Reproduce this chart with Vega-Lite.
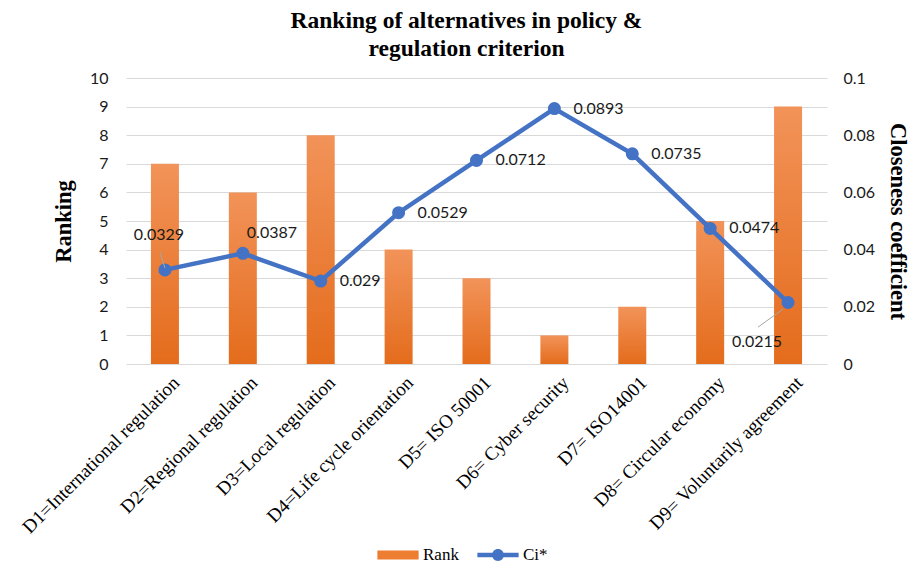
{
  "$schema": "https://vega.github.io/schema/vega-lite/v6.json",
  "autosize": "none",
  "width": 701,
  "height": 286,
  "padding": {"left": 126, "top": 78, "right": 87, "bottom": 202},
  "background": "white",
  "title": {
    "text": ["Ranking of alternatives in policy &", "regulation criterion"],
    "font": "Liberation Serif",
    "fontSize": 23.5,
    "fontWeight": "bold",
    "lineHeight": 28,
    "color": "#000000",
    "anchor": "middle",
    "dx": -10,
    "offset": 10
  },
  "config": {
    "view": {"stroke": null},
    "axis": {"domain": false, "ticks": false, "labelOverlap": false, "labelFont": "Lato", "labelFontSize": 16, "labelColor": "#1a1a1a", "titleFont": "Liberation Serif", "titleFontSize": 22.5, "titleFontWeight": "bold", "titleColor": "#000000"}
  },
  "data": {
    "values": [
      {"alt": "D1=International regulation", "rank": 7, "ci": 0.0329, "label": "0.0329"},
      {"alt": "D2=Regional regulation", "rank": 6, "ci": 0.0387, "label": "0.0387"},
      {"alt": "D3=Local regulation", "rank": 8, "ci": 0.029, "label": "0.029"},
      {"alt": "D4=Life cycle orientation", "rank": 4, "ci": 0.0529, "label": "0.0529"},
      {"alt": "D5= ISO 50001", "rank": 3, "ci": 0.0712, "label": "0.0712"},
      {"alt": "D6=  Cyber security", "rank": 1, "ci": 0.0893, "label": "0.0893"},
      {"alt": "D7= ISO14001", "rank": 2, "ci": 0.0735, "label": "0.0735"},
      {"alt": "D8= Circular economy", "rank": 5, "ci": 0.0474, "label": "0.0474"},
      {"alt": "D9= Voluntarily agreement", "rank": 9, "ci": 0.0215, "label": "0.0215"}
    ]
  },
  "encoding": {
    "x": {
      "field": "alt", "type": "nominal", "sort": null, "title": null,
      "scale": {"paddingInner": 0.64, "paddingOuter": 0.32},
      "axis": {"labelAngle": -45, "labelFont": "Liberation Serif", "labelFontSize": 19, "labelColor": "#000000", "labelPadding": 9, "labelOffset": 5, "labelLimit": 300, "grid": false}
    }
  },
  "layer": [
    {
      "mark": {"type": "bar", "size": 28, "fill": {"gradient": "linear", "x1": 0, "y1": 0, "x2": 0, "y2": 1, "stops": [{"offset": 0, "color": "#F29359"}, {"offset": 1, "color": "#E46C1C"}]}},
      "encoding": {
        "y": {"field": "rank", "type": "quantitative", "title": "Ranking", "scale": {"domain": [0, 10]},
          "axis": {"orient": "left", "values": [0,1,2,3,4,5,6,7,8,9,10], "grid": true, "gridColor": "#D9D9D9", "gridWidth": 1, "labelPadding": 18, "titlePadding": 14}}
      }
    },
    {
      "layer": [
        {
          "mark": {"type": "line", "strokeWidth": 4.5},
          "encoding": {
            "y": {"field": "ci", "type": "quantitative", "title": "Closeness coefficient", "scale": {"domain": [0, 0.1]},
              "axis": {"orient": "right", "values": [0,0.01,0.02,0.03,0.04,0.05,0.06,0.07,0.08,0.09,0.1], "format": ".2~f", "grid": false, "labelPadding": 16, "titlePadding": 11}},
            "color": {"datum": "Ci*", "type": "nominal", "scale": {"domain": ["Rank", "Ci*"], "range": ["#ED7D31", "#4472C4"]},
              "legend": {
                "orient": "none", "legendX": 251, "legendY": 456, "direction": "horizontal", "title": null,
                "labelFont": "Liberation Serif", "labelFontSize": 17, "labelColor": "#000000",
                "symbolSize": 1700, "labelOffset": 4, "columnPadding": 18,
                "encode": {"symbols": {"update": {
                  "shape": {"signal": "datum.value === 'Rank' ? 'M-1,-0.22H1V0.22H-1Z' : 'M-1,-0.11H1V0.11H-1Z M-0.29,0A0.29,0.29 0 1,1 0.29,0A0.29,0.29 0 1,1 -0.29,0Z'"},
                  "fill": {"signal": "datum.value === 'Rank' ? '#ED7D31' : '#4472C4'"},
                  "stroke": {"value": "transparent"},
                  "strokeWidth": {"value": 0},
                  "opacity": {"value": 1}
                }}}
              }}
          }
        },
        {
          "mark": {"type": "point", "filled": true, "size": 170, "opacity": 1, "color": "#4472C4"},
          "encoding": {"y": {"field": "ci", "type": "quantitative"}}
        },
        {
          "transform": [{"filter": "datum.alt === 'D1=International regulation'"}],
          "mark": {"type": "rule", "color": "#A6A6A6", "strokeWidth": 1, "xOffset": -5, "x2Offset": 0},
          "encoding": {"y": {"datum": 0.0392, "type": "quantitative"}, "y2": {"datum": 0.0336}, "x2": {"field": "alt"}}
        },
        {
          "transform": [{"filter": "datum.alt === 'D9= Voluntarily agreement'"}],
          "mark": {"type": "rule", "color": "#A6A6A6", "strokeWidth": 1, "xOffset": -30, "x2Offset": -5},
          "encoding": {"y": {"datum": 0.0129, "type": "quantitative"}, "y2": {"datum": 0.0192}, "x2": {"field": "alt"}}
        },
        {
          "transform": [{"filter": "indexof(['D1=International regulation','D2=Regional regulation','D9= Voluntarily agreement'], datum.alt) < 0"}],
          "mark": {"type": "text", "align": "left", "baseline": "middle", "dx": 19, "font": "Lato", "fontSize": 16, "color": "#1a1a1a"},
          "encoding": {"y": {"field": "ci", "type": "quantitative"}, "text": {"field": "label"}}
        },
        {
          "transform": [{"filter": "datum.alt === 'D2=Regional regulation'"}],
          "mark": {"type": "text", "align": "left", "baseline": "middle", "dx": 4, "dy": -20, "font": "Lato", "fontSize": 16, "color": "#1a1a1a"},
          "encoding": {"y": {"field": "ci", "type": "quantitative"}, "text": {"field": "label"}}
        },
        {
          "transform": [{"filter": "datum.alt === 'D1=International regulation'"}],
          "mark": {"type": "text", "align": "center", "baseline": "middle", "dx": -6, "dy": -35, "font": "Lato", "fontSize": 16, "color": "#1a1a1a"},
          "encoding": {"y": {"field": "ci", "type": "quantitative"}, "text": {"field": "label"}}
        },
        {
          "transform": [{"filter": "datum.alt === 'D9= Voluntarily agreement'"}],
          "mark": {"type": "text", "align": "center", "baseline": "middle", "dx": -31, "dy": 39, "font": "Lato", "fontSize": 16, "color": "#1a1a1a"},
          "encoding": {"y": {"field": "ci", "type": "quantitative"}, "text": {"field": "label"}}
        }
      ]
    }
  ],
  "resolve": {"scale": {"y": "independent"}}
}
